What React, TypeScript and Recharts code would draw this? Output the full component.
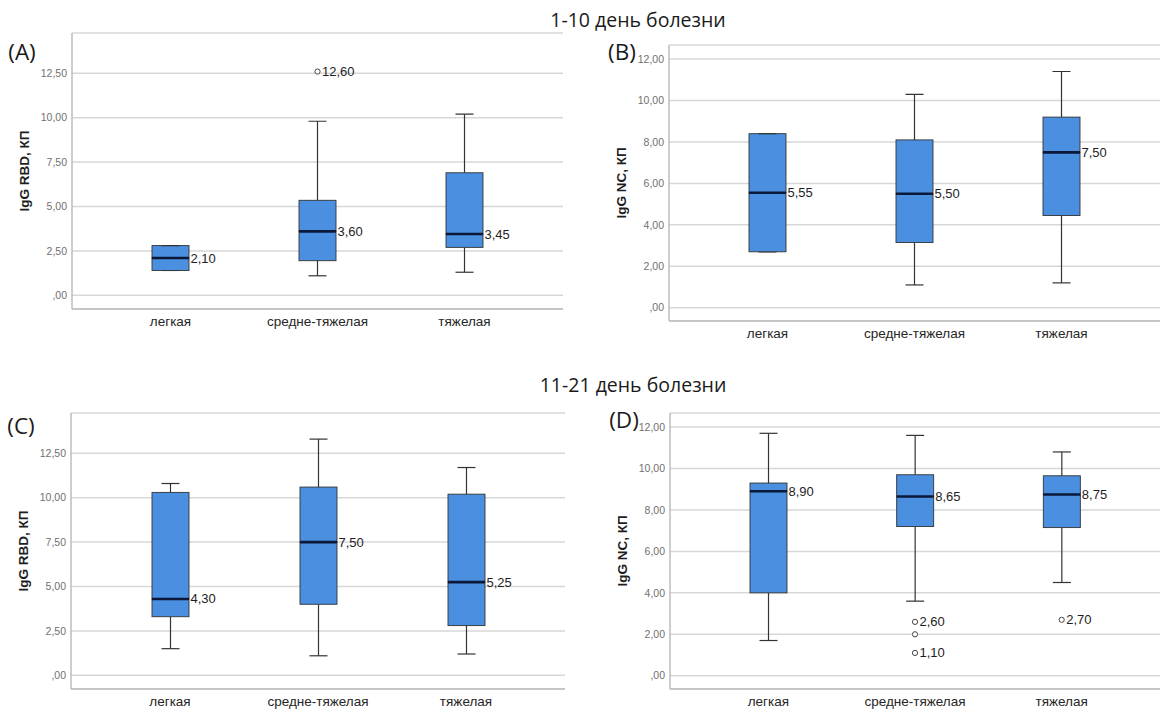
import React from "react";
import {
  ComposedChart,
  Bar,
  Line,
  XAxis,
  YAxis,
  CartesianGrid,
  Label,
} from "recharts";

const categories = ["легкая", "средне-тяжелая", "тяжелая"];

// (A) IgG RBD, 1-10 день
const rbdEarlyMin = [1.4, 1.1, 1.3];
const rbdEarlyQ1 = [1.4, 1.95, 2.7];
const rbdEarlyMedian = [2.1, 3.6, 3.45];
const rbdEarlyQ3 = [2.8, 5.35, 6.9];
const rbdEarlyMax = [2.8, 9.8, 10.2];
const rbdEarlyOutliers = [[], [12.6], []];
const rbdEarlyOutlierShown = [[], [true], []];

// (B) IgG NC, 1-10 день
const ncEarlyMin = [2.7, 1.1, 1.2];
const ncEarlyQ1 = [2.7, 3.15, 4.45];
const ncEarlyMedian = [5.55, 5.5, 7.5];
const ncEarlyQ3 = [8.4, 8.1, 9.2];
const ncEarlyMax = [8.4, 10.3, 11.4];
const ncEarlyOutliers = [[], [], []];
const ncEarlyOutlierShown = [[], [], []];

// (C) IgG RBD, 11-21 день
const rbdLateMin = [1.5, 1.1, 1.2];
const rbdLateQ1 = [3.3, 4.0, 2.8];
const rbdLateMedian = [4.3, 7.5, 5.25];
const rbdLateQ3 = [10.3, 10.6, 10.2];
const rbdLateMax = [10.8, 13.3, 11.7];
const rbdLateOutliers = [[], [], []];
const rbdLateOutlierShown = [[], [], []];

// (D) IgG NC, 11-21 день
const ncLateMin = [1.7, 3.6, 4.5];
const ncLateQ1 = [4.0, 7.2, 7.15];
const ncLateMedian = [8.9, 8.65, 8.75];
const ncLateQ3 = [9.3, 9.7, 9.65];
const ncLateMax = [11.7, 11.6, 10.8];
const ncLateOutliers = [[], [2.6, 2.0, 1.1], [2.7]];
const ncLateOutlierShown = [[], [true, false, true], [true]];

const rbdTicks = [0, 2.5, 5, 7.5, 10, 12.5];
const ncTicks = [0, 2, 4, 6, 8, 10, 12];

const BOX_FILL = "#4a8fe0";
const BOX_STROKE = "#333";
const BOX_W = 37;
const CAP_W = 18;
const AXIS_FONT = "'Liberation Sans', Arial, sans-serif";

// SPSS style numbers: 2,50 and ,00
const fmt = (v: number) => v.toFixed(2).replace(".", ",").replace(/^0,/, ",");

function buildRows(
  min: number[],
  q1: number[],
  med: number[],
  q3: number[],
  max: number[],
  outliers: number[][],
  shown: boolean[][]
) {
  return categories.map((name, i) => {
    const row: any = {
      name,
      base: min[i],
      wLow: q1[i] - min[i],
      boxLow: med[i] - q1[i],
      boxHigh: q3[i] - med[i],
      wHigh: max[i] - q3[i],
      median: med[i],
    };
    outliers[i].forEach((v, k) => {
      row[`o${k}`] = v;
      row[`o${k}Shown`] = shown[i][k];
    });
    return row;
  });
}

const EmptyShape = () => <g />;

const WhiskerLow = (p: any) => {
  const cx = p.x + p.width / 2;
  const yEnd = p.y + p.height;
  return (
    <g>
      <line x1={cx} x2={cx} y1={p.y} y2={yEnd} stroke={BOX_STROKE} strokeWidth={1.2} />
      <line x1={cx - CAP_W / 2} x2={cx + CAP_W / 2} y1={yEnd} y2={yEnd} stroke={BOX_STROKE} strokeWidth={1.2} />
    </g>
  );
};

const WhiskerHigh = (p: any) => {
  const cx = p.x + p.width / 2;
  return (
    <g>
      <line x1={cx} x2={cx} y1={p.y} y2={p.y + p.height} stroke={BOX_STROKE} strokeWidth={1.2} />
      <line x1={cx - CAP_W / 2} x2={cx + CAP_W / 2} y1={p.y} y2={p.y} stroke={BOX_STROKE} strokeWidth={1.2} />
    </g>
  );
};

const BoxLow = (p: any) => (
  <rect x={p.x} y={p.y} width={p.width} height={p.height} fill={BOX_FILL} stroke={BOX_STROKE} strokeWidth={0.9} />
);

// upper half of the box, then the median line and its value on top
const BoxHigh = (p: any) => {
  const my = p.y + p.height;
  return (
    <g>
      <rect x={p.x} y={p.y} width={p.width} height={p.height} fill={BOX_FILL} stroke={BOX_STROKE} strokeWidth={0.9} />
      <line x1={p.x} x2={p.x + p.width} y1={my} y2={my} stroke="#0c1838" strokeWidth={2.6} />
      <text
        x={p.x + p.width + 1.5}
        y={my}
        dominantBaseline="central"
        fontSize={13}
        fill="#1e1e1e"
        fontFamily={AXIS_FONT}
      >
        {fmt(p.payload.median)}
      </text>
    </g>
  );
};

const outlierDot = (k: string) => (props: any) => {
  const { cx, cy, payload, index } = props;
  if (payload == null || payload[k] == null || cy == null || isNaN(cy)) {
    return <g key={`${k}-${index}`} />;
  }
  return (
    <g key={`${k}-${index}`}>
      <circle cx={cx} cy={cy} r={2.6} fill="#fff" stroke="#444" strokeWidth={1} />
      {payload[`${k}Shown`] && (
        <text x={cx + 4.5} y={cy} dominantBaseline="central" fontSize={13} fill="#1e1e1e" fontFamily={AXIS_FONT}>
          {fmt(payload[k])}
        </text>
      )}
    </g>
  );
};

type PanelProps = {
  rows: any[];
  domain: [number, number];
  ticks: number[];
  yLabel: string;
  left: number;
  top: number;
  width: number;
  height: number;
  margin: { top: number; right: number; bottom: number; left: number };
  xAxisHeight: number;
};

const BoxPanel = ({ rows, domain, ticks, yLabel, left, top, width, height, margin, xAxisHeight }: PanelProps) => {
  const plotW = width - margin.left - margin.right - 60;
  const pad = Math.round(plotW * 0.05);
  return (
    <div style={{ position: "absolute", left, top }}>
      <ComposedChart width={width} height={height} data={rows} margin={margin} barSize={BOX_W}>
        <CartesianGrid vertical={false} stroke="#d7d7d7" strokeWidth={1.5} />
        <XAxis
          dataKey="name"
          height={xAxisHeight}
          padding={{ left: pad, right: pad }}
          tickLine={false}
          tickSize={0}
          tickMargin={7}
          axisLine={{ stroke: "#bdbdbd", strokeWidth: 1.5 }}
          tick={{ fontSize: 13.5, fill: "#262626", fontFamily: AXIS_FONT }}
          interval={0}
        />
        <YAxis
          type="number"
          domain={domain}
          ticks={ticks}
          allowDataOverflow
          interval={0}
          width={60}
          tickFormatter={fmt}
          tickLine={false}
          tickSize={0}
          tickMargin={5}
          axisLine={{ stroke: "#bdbdbd", strokeWidth: 1.5 }}
          tick={{ fontSize: 10.5, fill: "#707070", fontFamily: AXIS_FONT }}
        >
          <Label
            content={(props: any) => {
              const vb = props.viewBox || { x: margin.left, y: margin.top, width: 60, height: 276 };
              const x = vb.x + vb.width - 48;
              const y = vb.y + vb.height / 2;
              return (
                <text
                  x={x}
                  y={y}
                  transform={`rotate(-90 ${x} ${y})`}
                  textAnchor="middle"
                  dominantBaseline="central"
                  fontSize={13.5}
                  fontWeight="bold"
                  fill="#1e1e1e"
                  fontFamily={AXIS_FONT}
                >
                  {yLabel}
                </text>
              );
            }}
          />
        </YAxis>
        <Bar dataKey="base" stackId="box" shape={EmptyShape} isAnimationActive={false} />
        <Bar dataKey="wLow" stackId="box" shape={WhiskerLow} isAnimationActive={false} />
        <Bar dataKey="boxLow" stackId="box" shape={BoxLow} isAnimationActive={false} />
        <Bar dataKey="boxHigh" stackId="box" shape={BoxHigh} isAnimationActive={false} />
        <Bar dataKey="wHigh" stackId="box" shape={WhiskerHigh} isAnimationActive={false} />
        {["o0", "o1", "o2"].map((k) => (
          <Line
            key={k}
            dataKey={k}
            stroke="none"
            dot={outlierDot(k)}
            activeDot={false}
            legendType="none"
            isAnimationActive={false}
          />
        ))}
      </ComposedChart>
    </div>
  );
};

const rowsA = buildRows(rbdEarlyMin, rbdEarlyQ1, rbdEarlyMedian, rbdEarlyQ3, rbdEarlyMax, rbdEarlyOutliers, rbdEarlyOutlierShown);
const rowsB = buildRows(ncEarlyMin, ncEarlyQ1, ncEarlyMedian, ncEarlyQ3, ncEarlyMax, ncEarlyOutliers, ncEarlyOutlierShown);
const rowsC = buildRows(rbdLateMin, rbdLateQ1, rbdLateMedian, rbdLateQ3, rbdLateMax, rbdLateOutliers, rbdLateOutlierShown);
const rowsD = buildRows(ncLateMin, ncLateQ1, ncLateMedian, ncLateQ3, ncLateMax, ncLateOutliers, ncLateOutlierShown);

const TITLE_FONT = "'Open Sans', 'Noto Sans', sans-serif";

export default function App() {
  return (
    <div
      style={{
        position: "absolute",
        left: 0,
        top: 0,
        width: 1160,
        height: 711,
        background: "#fff",
        overflow: "hidden",
      }}
    >
      <svg width={1160} height={711} style={{ position: "absolute", left: 0, top: 0 }}>
        <g fontFamily={TITLE_FONT} fill="#1a1a1a">
          <text x={638} y={19} textAnchor="middle" dominantBaseline="central" fontSize={19.5}>
            1-10 день болезни
          </text>
          <text x={633} y={384} textAnchor="middle" dominantBaseline="central" fontSize={19.5}>
            11-21 день болезни
          </text>
          <text x={22} y={51} textAnchor="middle" dominantBaseline="central" fontSize={22.5}>
            (A)
          </text>
          <text x={622} y={51} textAnchor="middle" dominantBaseline="central" fontSize={22.5}>
            (B)
          </text>
          <text x={21} y={425} textAnchor="middle" dominantBaseline="central" fontSize={22.5}>
            (C)
          </text>
          <text x={624} y={419} textAnchor="middle" dominantBaseline="central" fontSize={22.5}>
            (D)
          </text>
        </g>
      </svg>
      <BoxPanel
        rows={rowsA}
        domain={[-0.77, 14.77]}
        ticks={rbdTicks}
        yLabel="IgG RBD, КП"
        left={0}
        top={0}
        width={580}
        height={345}
        margin={{ top: 33, right: 17, bottom: 0, left: 12 }}
        xAxisHeight={36}
      />
      <BoxPanel
        rows={rowsB}
        domain={[-0.64, 12.68]}
        ticks={ncTicks}
        yLabel="IgG NC, КП"
        left={580}
        top={0}
        width={580}
        height={355}
        margin={{ top: 45, right: 0, bottom: 0, left: 29 }}
        xAxisHeight={34}
      />
      <BoxPanel
        rows={rowsC}
        domain={[-0.77, 14.77]}
        ticks={rbdTicks}
        yLabel="IgG RBD, КП"
        left={0}
        top={380}
        width={580}
        height={345}
        margin={{ top: 33, right: 15, bottom: 0, left: 11 }}
        xAxisHeight={36}
      />
      <BoxPanel
        rows={rowsD}
        domain={[-0.64, 12.68]}
        ticks={ncTicks}
        yLabel="IgG NC, КП"
        left={580}
        top={368}
        width={580}
        height={355}
        margin={{ top: 45, right: 0, bottom: 0, left: 30 }}
        xAxisHeight={34}
      />
    </div>
  );
}
